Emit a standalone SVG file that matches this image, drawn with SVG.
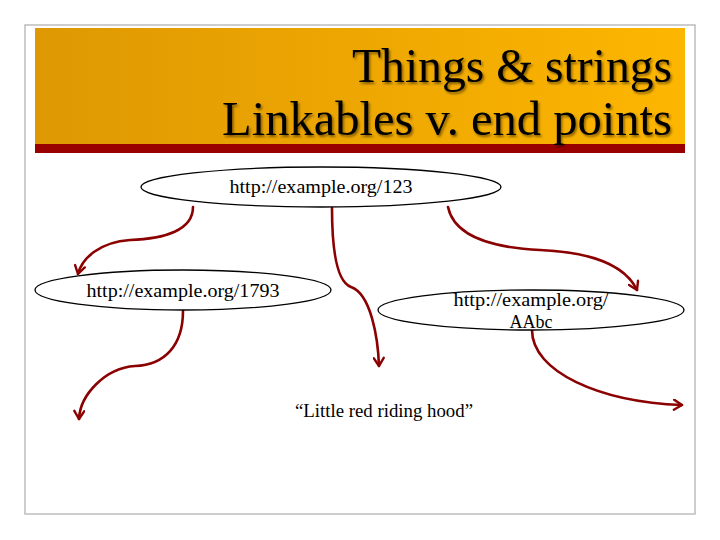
<svg xmlns="http://www.w3.org/2000/svg" width="720" height="540" viewBox="0 0 720 540">
  <defs>
    <linearGradient id="hdr" x1="0" y1="0" x2="1" y2="0">
      <stop offset="0" stop-color="#DE9803"/>
      <stop offset="1" stop-color="#FDB600"/>
    </linearGradient>
    <filter id="shadow" x="-5%" y="-20%" width="110%" height="140%">
      <feDropShadow dx="1.5" dy="2" stdDeviation="1.2" flood-color="#000" flood-opacity="0.45"/>
    </filter>
    <marker id="arrow" viewBox="0 0 12 12" refX="10" refY="6" markerWidth="12" markerHeight="12" markerUnits="userSpaceOnUse" orient="auto">
      <path d="M2,1 L10,6 L2,11" fill="none" stroke="#8B0000" stroke-width="2.4" stroke-linecap="round" stroke-linejoin="round"/>
    </marker>
    <style>
      .node ellipse { fill: #ffffff; stroke: #000000; stroke-width: 1.3; }
      .lbl { font-family: 'Liberation Serif', 'DejaVu Serif', serif; font-size: 18px; fill: #000000; text-anchor: middle; }
      .title { font-family: 'Liberation Serif', 'DejaVu Serif', serif; font-size: 48px; fill: #000000; text-anchor: end; }
      .edge { fill: none; stroke: #8B0000; stroke-width: 2.6; stroke-linecap: round; marker-end: url(#arrow); }
    </style>
  </defs>

  <rect x="0" y="0" width="720" height="540" fill="#ffffff"/>
  <rect x="25" y="25" width="670" height="489" fill="#ffffff" stroke="#BDBDBD" stroke-width="1.5"/>

  <g id="header">
    <rect x="35" y="28" width="650" height="117" fill="url(#hdr)"/>
    <rect x="35" y="144" width="650" height="9" fill="#990000"/>
    <g filter="url(#shadow)">
      <text class="title" x="672" y="82" font-family="Liberation Serif, serif" textLength="320" lengthAdjust="spacingAndGlyphs">Things &amp; strings</text>
      <text class="title" x="672" y="135" font-family="Liberation Serif, serif" textLength="450" lengthAdjust="spacingAndGlyphs">Linkables v. end points</text>
    </g>
  </g>

  <g id="connectors">
    <path class="edge" d="M193,207 C193,230 165,239 130,240 C100,242 82,258 78,274"/>
    <path class="edge" d="M332,208 C332,250 337,282 351,287 C371,294 378,338 379,366"/>
    <path class="edge" d="M448,207 C455,240 500,248 540,250 C590,252 625,265 637,290"/>
    <path class="edge" d="M183,311 C183,345 165,365 135,366 C105,368 80,395 79,419"/>
    <path class="edge" d="M532,330 C532,372 600,402 682,405"/>
  </g>

  <g id="node-123" class="node">
    <ellipse cx="321" cy="187" rx="180" ry="20"/>
    <text class="lbl" x="321" y="193" textLength="183" lengthAdjust="spacingAndGlyphs">http://example.org/123</text>
  </g>

  <g id="node-1793" class="node">
    <ellipse cx="183" cy="290" rx="148" ry="20"/>
    <text class="lbl" x="183" y="297" textLength="193" lengthAdjust="spacingAndGlyphs">http://example.org/1793</text>
  </g>

  <g id="node-AAbc" class="node">
    <ellipse cx="531" cy="310" rx="153" ry="20"/>
    <text class="lbl" x="531" y="306" textLength="155" lengthAdjust="spacingAndGlyphs">http://example.org/</text>
    <text class="lbl" x="531" y="328">AAbc</text>
  </g>

  <g id="literal">
    <text class="lbl" x="384" y="417" textLength="178" lengthAdjust="spacingAndGlyphs">“Little red riding hood”</text>
  </g>
</svg>
